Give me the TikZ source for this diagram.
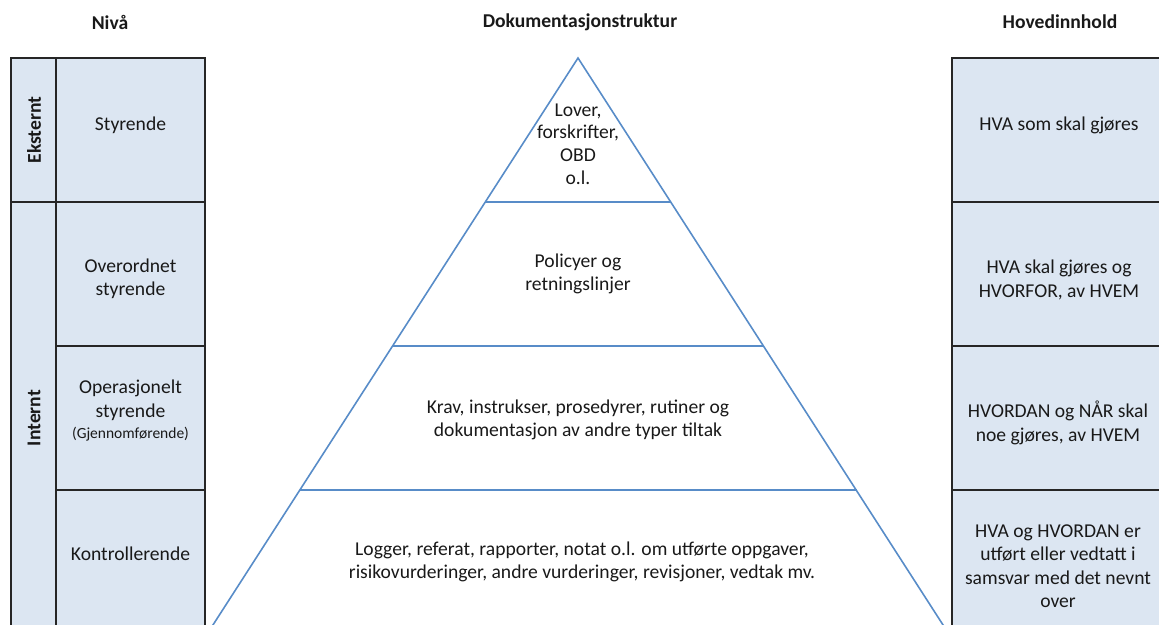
\documentclass[tikz,border=0pt]{standalone}
\usepackage{fontspec}
\setmainfont{Carlito}
\definecolor{cellfill}{RGB}{220,230,242}
\definecolor{cellline}{RGB}{38,38,38}
\definecolor{pyrline}{RGB}{88,140,200}
\definecolor{txt}{RGB}{25,25,25}
\tikzset{
  cell/.style={draw=cellline, fill=cellfill, line width=1.3pt, inner sep=0pt},
  ctext/.style={align=center, text=txt, inner sep=0pt, font=\fontsize{19.6}{23.5}\selectfont},
  vtext/.style={rotate=90, text=txt, inner sep=0pt, font=\fontsize{19.6}{23.5}\selectfont\bfseries},
  header/.style={font=\fontsize{19.6}{23.5}\selectfont\bfseries, text=txt},
  ptext/.style={align=center, text=txt, inner sep=0pt, font=\fontsize{19.6}{22.8}\selectfont},
  pline/.style={draw=pyrline, line width=1.6pt}
}
\begin{document}
\begin{tikzpicture}[x=1pt,y=-1pt]
\useasboundingbox (0,0) rectangle (1159,624);
\clip (0,0) rectangle (1159,624);
% headers
\node[header] (h1) at (110,22) {Nivå};
\node[header] (h2) at (580,22) {Dokumentasjonstruktur};
\node[header] (h3) at (1060,22) {Hovedinnhold};
% left column
\node[cell, minimum width=45pt, minimum height=144pt] (ek) at (33.5,130) {};
\node[vtext] (ekt) at (34,130) {Eksternt};
\node[cell, minimum width=45pt, minimum height=432pt] (in) at (33.5,418) {};
\node[vtext] (int) at (34,418) {Internt};
\node[cell, minimum width=149pt, minimum height=144pt] (l1) at (130.5,130) {};
\node[cell, minimum width=149pt, minimum height=144pt] (l2) at (130.5,274) {};
\node[cell, minimum width=149pt, minimum height=144pt] (l3) at (130.5,418) {};
\node[cell, minimum width=149pt, minimum height=144pt] (l4) at (130.5,562) {};
\node[ctext] (l1t) at (130.5,125) {Styrende};
\node[ctext] (l2t) at (130.5,279) {Overordnet\\styrende};
\node[ctext] (l3t) at (130.5,411) {Operasjonelt\\styrende\\[-2pt]{\fontsize{15.5}{18}\selectfont (Gjennomførende)}};
\node[ctext] (l4t) at (130.5,554) {Kontrollerende};
% right column
\node[cell, minimum width=212pt, minimum height=144pt] (r1) at (1058,130) {};
\node[cell, minimum width=212pt, minimum height=144pt] (r2) at (1058,274) {};
\node[cell, minimum width=212pt, minimum height=144pt] (r3) at (1058,418) {};
\node[cell, minimum width=212pt, minimum height=144pt] (r4) at (1058,562) {};
\node[ctext] (r1t) at (1059,125) {HVA som skal gjøres};
\node[ctext] (r2t) at (1059,280) {HVA skal gjøres og\\HVORFOR, av HVEM};
\node[ctext] (r3t) at (1058,423) {HVORDAN og NÅR skal\\noe gjøres, av HVEM};
\node[ctext] (r4t) at (1058,566) {HVA og HVORDAN er\\utført eller vedtatt i\\samsvar med det nevnt\\over};
% pyramid
\coordinate (apex) at (578,58);
\coordinate (bl) at (211,628);
\coordinate (br) at (945,628);
\coordinate (a1) at (485.3,202);
\coordinate (b1) at (670.7,202);
\coordinate (a2) at (392.7,346);
\coordinate (b2) at (763.3,346);
\coordinate (a3) at (300,490);
\coordinate (b3) at (857,490);
\draw[pline, line join=miter] (bl) -- (apex) -- (br);
\draw[pline] (a1) -- (b1);
\draw[pline] (a2) -- (b2);
\draw[pline] (a3) -- (b3);
\node[ptext] (p1) at (578,144) {Lover,\\forskrifter,\\OBD\\o.l.};
\node[ptext] (p2) at (578,274) {Policyer og\\retningslinjer};
\node[ptext] (p3) at (578,420) {Krav, instrukser, prosedyrer, rutiner og\\dokumentasjon av andre typer tiltak};
\node[ptext] (p4) at (582,562) {Logger, referat, rapporter, notat o.l. om utførte oppgaver,\\risikovurderinger, andre vurderinger, revisjoner, vedtak mv.};
\end{tikzpicture}
\end{document}
